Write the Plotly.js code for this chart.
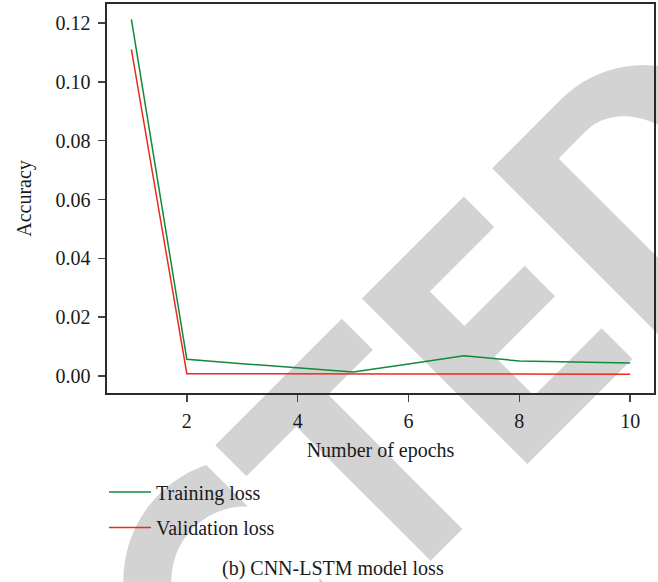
<!DOCTYPE html>
<html><head><meta charset="utf-8">
<script src="https://cdn.plot.ly/plotly-3.0.1.min.js"></script>
<style>html,body{margin:0;padding:0;background:#fff}</style>
</head><body><div id="chart" style="width:658px;height:582px"></div>
<script>
// ---- data ----
const epochs = [1, 2, 3, 4, 5, 6, 7, 8, 9, 10];
const trainingLoss = [0.1213, 0.0057, 0.0042, 0.0027, 0.0014, 0.0041, 0.0069, 0.0051, 0.0048, 0.0044];
const validationLoss = [0.1111, 0.0008, 0.0008, 0.0007, 0.0007, 0.0007, 0.0007, 0.0006, 0.0006, 0.0006];
const seriesNames = ['Training loss', 'Validation loss'];
const xTickVals = [2, 4, 6, 8, 10];
const yTickVals = [0, 0.02, 0.04, 0.06, 0.08, 0.10, 0.12];
const xTitle = 'Number of epochs';
const yTitle = 'Accuracy';
const caption = '(b) CNN-LSTM model loss';

// ---- layout geometry ----
const W = 658, H = 582;
const M = {l: 107, r: 4, t: 4, b: 189};
const PW = W - M.l - M.r, PH = H - M.t - M.b;
const px2paper = (x, y) => [(x - M.l) / PW, (H - M.b - y) / PH];

// watermark glyphs in rotated letter coordinates (u along text, v up)
const S2 = Math.SQRT2;
function lp(u, v) { return px2paper((u - v) / S2, -(u + v) / S2); }
function polyPath(pts) {
  return pts.map((p, i) => { const q = lp(p[0], p[1]); return (i ? 'L' : 'M') + q[0].toFixed(5) + ',' + q[1].toFixed(5); }).join('') + 'Z';
}
function arcPts(cu, cv, ru, rv, a0, a1, n) {
  const out = [];
  for (let i = 0; i <= n; i++) { const a = (a0 + (a1 - a0) * i / n) * Math.PI / 180; out.push([cu + ru * Math.cos(a), cv + rv * Math.sin(a)]); }
  return out;
}
const gTop = -467, gBot = -701, gMid = -584;
const glyphT = [[-162.6, gTop], [16.3, gTop], [16.3, -511], [-47, -511], [-47, gBot], [-92, gBot], [-92, -511], [-162.6, -511]];
const glyphE = [[44.8, gTop], [189, gTop], [189, -510], [97.8, -510], [97.8, -559], [183, -559], [183, -602], [97.8, -602], [97.8, -657.6], [193.3, -657.6], [193.3, gBot], [44.8, gBot]];
const dOuter = [[229, gBot], [229, gTop], [326.5, gTop]].concat(arcPts(326.5, gMid, 117, 117, 90, -90, 40)).concat([[229, gBot]]);
const dInner = [[283, -507], [283, -661], [322, -661]].concat(arcPts(322, gMid, 60, 77, -90, 90, 40));
const cPoly = arcPts(-237, gMid, 122, 122, 63.7, 296.3, 60).concat(arcPts(-237, gMid, 74, 74, 316.9, 43.1, 60));

const wm = {type: 'path', xref: 'paper', yref: 'paper', layer: 'below', fillcolor: '#d3d3d3', line: {width: 0}, fillrule: 'evenodd'};
const shapes = [
  Object.assign({path: polyPath(glyphT)}, wm),
  Object.assign({path: polyPath(glyphE)}, wm),
  Object.assign({path: polyPath(dOuter) + polyPath(dInner)}, wm),
  Object.assign({path: polyPath(cPoly)}, wm)
];

const font = {family: '"Liberation Serif", "DejaVu Serif", serif', size: 20, color: '#1a1a1a'};
const axisCommon = {
  showline: true, mirror: true, linecolor: '#2b2b2b', linewidth: 1.6,
  ticks: 'outside', ticklen: 7, tickwidth: 1.5, tickcolor: '#444',
  showgrid: false, zeroline: false, tickfont: font
};

const traces = [
  {x: epochs, y: trainingLoss, name: seriesNames[0], type: 'scatter', mode: 'lines',
   line: {color: '#118a3b', width: 1.5}, legendgroup: 'a'},
  {x: epochs, y: validationLoss, name: seriesNames[1], type: 'scatter', mode: 'lines',
   line: {color: '#ec2a1f', width: 1.5}, legendgroup: 'b'}
];

const legPos = px2paper(104, 472.5);
const capPos = px2paper(333, 568);

const layout = {
  width: W, height: H, margin: M, paper_bgcolor: '#fff', plot_bgcolor: 'rgba(0,0,0,0)',
  font: font, showlegend: true,
  xaxis: Object.assign({}, axisCommon, {range: [0.56, 10.43], tickvals: xTickVals, ticklabelstandoff: 2,
    title: {text: xTitle, font: font, standoff: 12}}),
  yaxis: Object.assign({}, axisCommon, {range: [-0.00578, 0.1265], tickvals: yTickVals, tickformat: '.2f', ticklabelstandoff: 4,
    title: {text: yTitle, font: font, standoff: 18}}),
  legend: {x: legPos[0], y: legPos[1], xanchor: 'left', yanchor: 'top', bgcolor: 'rgba(0,0,0,0)',
    font: font, itemwidth: 42, traceorder: 'grouped', tracegroupgap: 6.5, borderwidth: 0},
  annotations: [{text: caption, xref: 'paper', yref: 'paper', x: capPos[0], y: capPos[1],
    xanchor: 'center', yanchor: 'middle', showarrow: false, font: font}],
  shapes: shapes
};

Plotly.newPlot('chart', traces, layout, {displayModeBar: false, staticPlot: true});
</script></body></html>
